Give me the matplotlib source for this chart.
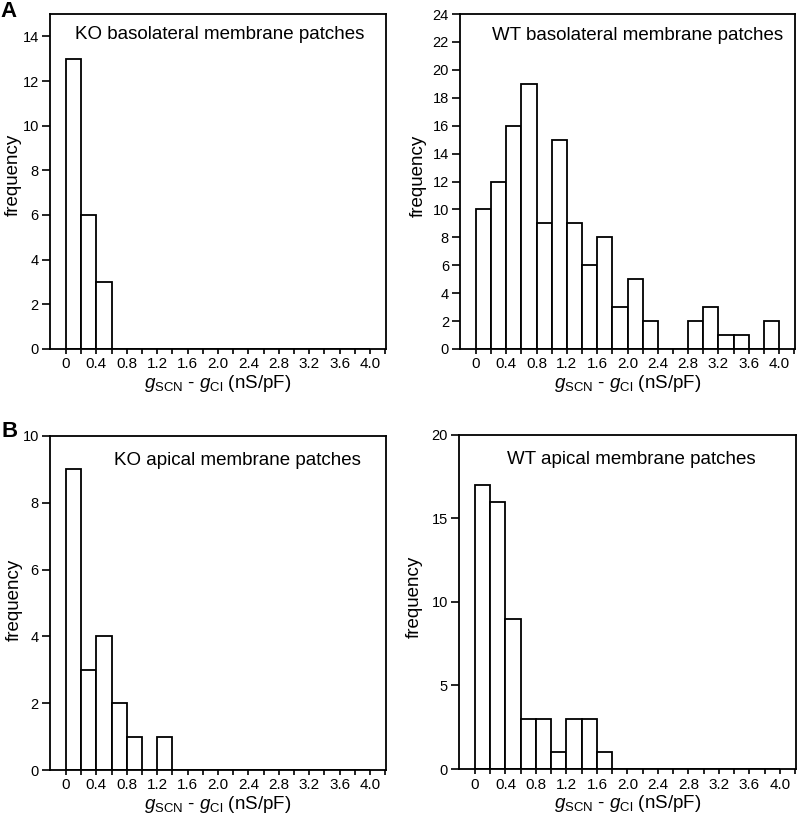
import numpy as np
import matplotlib
matplotlib.use("Agg")
import matplotlib.pyplot as plt

plt.rcParams["font.family"] = ["Liberation Sans", "DejaVu Sans"]
plt.rcParams["mathtext.fontset"] = "custom"
plt.rcParams["mathtext.rm"] = "Liberation Sans"
plt.rcParams["mathtext.it"] = "Liberation Sans:italic"

# histogram bins: width 0.2 nS/pF starting at 0
bin_width = 0.2
ko_baso = [13, 6, 3]
wt_baso = [10, 12, 16, 19, 9, 15, 9, 6, 8, 3, 5, 2, 0, 0, 2, 3, 1, 1, 0, 2]
ko_apical = [9, 3, 4, 2, 1, 0, 1]
wt_apical = [17, 16, 9, 3, 3, 1, 3, 3, 1]

titles = [
    "KO basolateral membrane patches",
    "WT basolateral membrane patches",
    "KO apical membrane patches",
    "WT apical membrane patches",
]
ylims = [15, 24, 10, 20]
ysteps = [2, 2, 2, 5]
xtick_labels = ["0", "0.4", "0.8", "1.2", "1.6", "2.0", "2.4", "2.8", "3.2", "3.6", "4.0"]

fig = plt.figure(figsize=(7.97, 8.15), dpi=100)
rects = [
    [0.0627, 0.5718, 0.4216, 0.411],
    [0.5772, 0.5718, 0.4203, 0.411],
    [0.0627, 0.0552, 0.4216, 0.410],
    [0.5759, 0.0564, 0.4228, 0.410],
]
title_x = [0.505, 0.53, 0.558, 0.51]
title_y = [0.94, 0.935, 0.925, 0.925]
ylabel_xy = [(-0.083, 0.52), (-0.098, 0.518), (-0.082, 0.51), (-0.108, 0.515)]

for i, (counts, rect) in enumerate(zip([ko_baso, wt_baso, ko_apical, wt_apical], rects)):
    ax = fig.add_axes(rect)
    counts = np.asarray(counts, dtype=float)
    # pad to cover 0..4.0 so the baseline runs along the axis
    full = np.zeros(20)
    full[: len(counts)] = counts
    edges = np.arange(len(full)) * bin_width
    ax.bar(edges, full, width=bin_width, align="edge", facecolor="white",
           edgecolor="black", linewidth=1.3)
    ax.set_xlim(-0.21, 4.21)
    ax.set_ylim(0, ylims[i])
    ticks = np.round(np.arange(0, 4.21, 0.2), 2)
    ax.set_xticks(ticks)
    ax.set_xticklabels([xtick_labels[k // 2] if k % 2 == 0 else "" for k in range(len(ticks))])
    ax.set_yticks(np.arange(0, ylims[i] + 0.1, ysteps[i]))
    ax.tick_params(axis="x", direction="out", length=3.6, width=1.2, labelsize=11, pad=2.5)
    ax.tick_params(axis="y", direction="out", length=5.5, width=1.2, labelsize=10.5, pad=2.5)
    for sp in ax.spines.values():
        sp.set_linewidth(1.3)
    ax.set_xlabel(r"$g_{\mathrm{SCN}}$ - $g_{\mathrm{Cl}}$ (nS/pF)", fontsize=13.5, labelpad=1)
    ax.set_ylabel("frequency", fontsize=13.5)
    ax.yaxis.set_label_coords(*ylabel_xy[i])
    ax.text(title_x[i], title_y[i], titles[i], transform=ax.transAxes, ha="center",
            va="center", fontsize=13.5)

fig.text(0.0, 0.999, "A", fontsize=16, fontweight="bold", va="top", ha="left")
fig.text(0.002, 0.483, "B", fontsize=16, fontweight="bold", va="top", ha="left")

fig.savefig("out.png", dpi=100)
